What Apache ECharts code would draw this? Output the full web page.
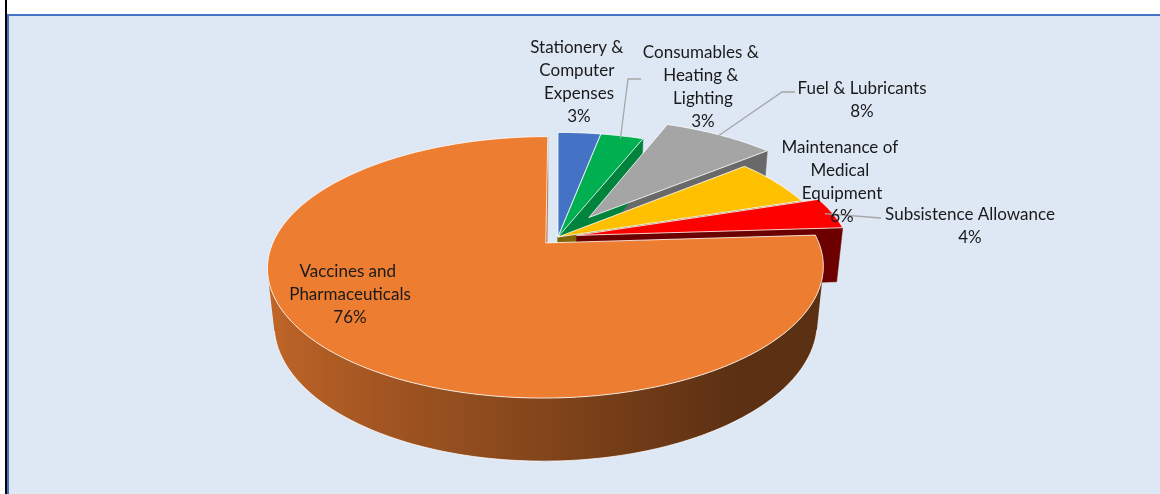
<!DOCTYPE html>
<html>
<head>
<meta charset="utf-8">
<script src="https://cdn.jsdelivr.net/npm/echarts@6/dist/echarts.min.js"></script>
<style>
  html, body { margin: 0; padding: 0; background: #ffffff; }
  #chart { width: 1160px; height: 494px; }
</style>
</head>
<body>
<div id="chart"></div>
<script>
// Expenditure shares, clockwise from 12 o'clock
const categories = [
  'Stationery & Computer Expenses',
  'Consumables & Heating & Lighting',
  'Fuel & Lubricants',
  'Maintenance of Medical Equipment',
  'Subsistence Allowance',
  'Vaccines and Pharmaceuticals'
];
const shares = [3, 3, 8, 6, 4, 76];
const sliceColors = ['#4472C4', '#00B050', '#A5A5A5', '#FFC000', '#FF0000', '#ED7D31'];

// How far each slice is pulled out of the pie (fraction of the radius)
const explodeBy = [0, 0, 0.2, 0, 0.07, 0.065];

// Camera for the 3D pie: screen centre, focal length, distance, tilt, disc thickness
const view = { cx: 558, cy: 237, f: 1299, D: 4.8, sinT: 0.458, depth: 0.232 };

// Label boxes (centre x, top y, wrap width) and leader elbows
const labelLayout = [
  { x: 579, y: 36.5, width: 112 },
  { x: 703, y: 41, width: 126, leader: [[641, 79], [628, 79]] },
  { x: 862, y: 77.5, width: 170, leader: [[795, 92], [782, 92]] },
  { x: 842, y: 136.5, width: 134 },
  { x: 970, y: 203.5, width: 210, leader: [[881, 218]] },
  { x: 350, y: 260.5, width: 140 }
];

const cosT = Math.sqrt(1 - view.sinT * view.sinT);
const total = shares.reduce((a, b) => a + b, 0);
const startAngles = [];
(function () {
  let acc = 0;
  shares.forEach(v => { startAngles.push(acc / total * Math.PI * 2); acc += v; });
})();
const cam = [0, view.D * view.sinT, view.D * cosT];

function project(p) {
  const d = view.D - (p[2] * cosT + p[1] * view.sinT);
  const v = p[1] * cosT - p[2] * view.sinT;
  return [view.cx + view.f * p[0] / d, view.cy - view.f * v / d];
}
function facesCamera(p, n) {
  return n[0] * (cam[0] - p[0]) + n[1] * (cam[1] - p[1]) + n[2] * (cam[2] - p[2]) > 0;
}
function camDist(p) {
  return Math.hypot(cam[0] - p[0], cam[1] - p[1], cam[2] - p[2]);
}
function centroid(pts) {
  const c = [0, 0, 0];
  pts.forEach(p => { c[0] += p[0]; c[1] += p[1]; c[2] += p[2]; });
  return c.map(v => v / pts.length);
}
function shade(hex, k) {
  const n = parseInt(hex.slice(1), 16);
  const r = Math.round(((n >> 16) & 255) * k);
  const g = Math.round(((n >> 8) & 255) * k);
  const b = Math.round((n & 255) * k);
  return 'rgb(' + r + ',' + g + ',' + b + ')';
}
const clamp = (v, lo, hi) => Math.max(lo, Math.min(hi, v));

function renderItem(params, api) {
  const i = params.dataIndex;
  const value = api.value(0);
  const a0 = startAngles[i];
  const a1 = a0 + value / total * Math.PI * 2;
  const mid = (a0 + a1) / 2;
  const e = explodeBy[i];
  const ox = e * Math.sin(mid), oz = -e * Math.cos(mid);
  const H = -view.depth;
  const rim = (a, y, r) => [ox + (r === undefined ? 1 : r) * Math.sin(a), y, oz - (r === undefined ? 1 : r) * Math.cos(a)];
  const base = sliceColors[i];
  const children = [];

  // Straight side walls along the two cut edges
  [[a0, -1], [a1, 1]].forEach(([a, s]) => {
    const n = [s * Math.cos(a), 0, s * Math.sin(a)];
    const quad = [[ox, 0, oz], rim(a, 0), rim(a, H), [ox, H, oz]];
    const c = centroid(quad);
    if (!facesCamera(c, n)) return;
    const col = shade(base, clamp(0.4 + 0.37 * n[0], 0.3, 0.8));
    children.push({
      type: 'polygon',
      shape: { points: quad.map(project) },
      style: { fill: col, stroke: col, lineWidth: 0.5 },
      z2: 200 - camDist(c) * 20
    });
  });

  // Curved outer wall: the camera-facing arc as one band with a lighting gradient
  const steps = Math.max(2, Math.ceil((a1 - a0) / (Math.PI / 180)));
  const topEdge = [], bottomEdge = [], stops = [];
  let depthSum = 0;
  for (let k = 0; k < steps; k++) {
    const b0 = a0 + (a1 - a0) * k / steps;
    const b1 = a0 + (a1 - a0) * (k + 1) / steps;
    const bm = (b0 + b1) / 2;
    const n = [Math.sin(bm), 0, -Math.cos(bm)];
    const c = centroid([rim(b0, 0), rim(b1, 0), rim(b1, H), rim(b0, H)]);
    if (!facesCamera(c, n)) continue;
    if (!topEdge.length) { topEdge.push(project(rim(b0, 0))); bottomEdge.push(project(rim(b0, H))); }
    topEdge.push(project(rim(b1, 0)));
    bottomEdge.push(project(rim(b1, H)));
    stops.push({ x: project(rim(bm, H / 2))[0], color: shade(base, clamp(0.55 - 0.27 * n[0], 0.39, 0.82)) });
    depthSum += camDist(c);
  }
  if (topEdge.length > 1) {
    const xs = stops.map(s => s.x);
    const xMin = Math.min.apply(null, xs), xMax = Math.max.apply(null, xs);
    const colorStops = stops
      .map(s => ({ offset: (s.x - xMin) / (xMax - xMin || 1), color: s.color }))
      .sort((p, q) => p.offset - q.offset);
    children.push({
      type: 'polygon',
      shape: { points: topEdge.concat(bottomEdge.slice().reverse()) },
      style: { fill: new echarts.graphic.LinearGradient(xMin, 0, xMax, 0, colorStops, true) },
      z2: 200 - depthSum / stops.length * 20
    });
    children.push({
      type: 'polyline',
      shape: { points: bottomEdge },
      style: { stroke: 'rgba(255,255,255,0.75)', lineWidth: 1, fill: null },
      z2: 300
    });
  }

  // Top face
  const top = [[ox, 0, oz]];
  for (let k = 0; k <= steps; k++) top.push(rim(a0 + (a1 - a0) * k / steps, 0));
  children.push({
    type: 'polygon',
    shape: { points: top.map(project) },
    style: { fill: base, stroke: 'rgba(255,255,255,0.8)', lineWidth: 1, lineJoin: 'round' },
    z2: 500
  });

  // Data label and leader line
  const lay = labelLayout[i];
  if (lay.leader) {
    children.push({
      type: 'polyline',
      shape: { points: lay.leader.concat([project(rim(mid, 0, 0.97))]) },
      style: { stroke: '#A6A6A6', lineWidth: 1.3, fill: null },
      z2: 600
    });
  }
  children.push({
    type: 'text',
    style: {
      text: categories[i] + '\n' + value + '%',
      x: lay.x,
      y: lay.y,
      width: lay.width,
      overflow: 'break',
      align: 'center',
      verticalAlign: 'top',
      lineHeight: 23,
      fontSize: 17,
      fontFamily: 'Lato',
      fill: '#1a1a1a'
    },
    z2: 700
  });

  return { type: 'group', children: children };
}

const chart = echarts.init(document.getElementById('chart'), null, { renderer: 'canvas' });
chart.setOption({
  animation: false,
  backgroundColor: '#ffffff',
  graphic: [
    { type: 'rect', z: -10, silent: true, shape: { x: 5, y: 0, width: 2, height: 494 }, style: { fill: '#000000' } },
    { type: 'rect', z: -10, silent: true, shape: { x: 8, y: 15, width: 1160, height: 490 },
      style: { fill: '#DEE8F5', stroke: '#4472C4', lineWidth: 2 } }
  ],
  series: [{
    type: 'custom',
    coordinateSystem: 'none',
    silent: true,
    dimensions: ['share'],
    data: shares.map((v, i) => ({ name: categories[i], value: [v] })),
    renderItem: renderItem
  }]
});
</script>
</body>
</html>
